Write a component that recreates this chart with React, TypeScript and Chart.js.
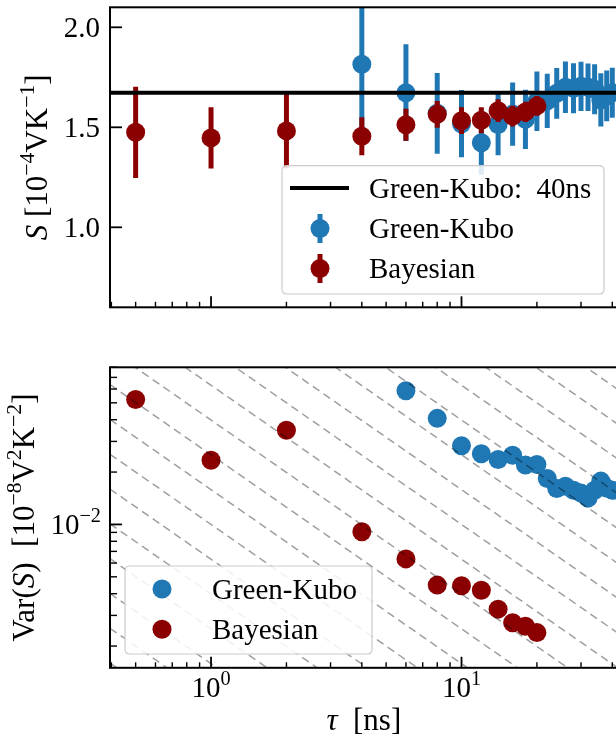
import React, { useEffect, useRef } from "react";
import { Chart, registerables } from "chart.js";

Chart.register(...registerables);

// ---------------- data ----------------
const TAU_BAYES = [0.5, 1, 2, 4, 6, 8, 10, 12, 14, 16, 18, 20];
const S_BAYES = [1.475, 1.447, 1.482, 1.455, 1.513, 1.565, 1.533, 1.535, 1.583, 1.556, 1.577, 1.607];
const S_ERR_BAYES = [0.228, 0.153, 0.187, 0.095, 0.08, 0.067, 0.067, 0.065, 0.057, 0.052, 0.051, 0.049];
const VAR_BAYES = [0.0522, 0.0234, 0.0348, 0.00907, 0.00634, 0.00448, 0.00444, 0.00419, 0.00326, 0.00272, 0.0026, 0.00239];

const TAU_GK = [4, 6, 8, 10, 12, 14, 16, 18, 20, 22, 24, 26, 28, 30, 32, 34, 36, 38, 40];
const S_GK = [1.815, 1.673, 1.57, 1.518, 1.423, 1.514, 1.566, 1.54, 1.63, 1.632, 1.67, 1.7, 1.695, 1.705, 1.7, 1.69, 1.637, 1.657, 1.673];
const S_ERR_GK = [0.37, 0.242, 0.202, 0.168, 0.16, 0.154, 0.158, 0.148, 0.149, 0.136, 0.127, 0.129, 0.125, 0.123, 0.119, 0.125, 0.133, 0.127, 0.125];
const VAR_GK = [0.137, 0.0587, 0.0407, 0.0283, 0.0255, 0.02364, 0.025, 0.02193, 0.0221, 0.01838, 0.0161, 0.0166, 0.01574, 0.01514, 0.01416, 0.01574, 0.01774, 0.01617, 0.0157];

const S_GK_40NS = 1.673;

const X_MIN = 0.395;
const X_MAX = 42;
const S_MIN = 0.6;
const S_MAX = 2.1;
const VAR_MIN = 0.0015;
const VAR_MAX = 0.08;

const S_TICKS = [1.0, 1.5, 2.0];
const S_TICK_LABELS = ["1.0", "1.5", "2.0"];
const X_MAJOR = [1, 10];
const X_MAJOR_EXP = ["0", "1"];
const X_MINOR = [0.4, 0.5, 0.6, 0.7, 0.8, 0.9, 2, 3, 4, 5, 6, 7, 8, 9, 20, 30, 40];
const VAR_MAJOR = [0.01];
const VAR_MAJOR_EXP = ["\u22122"];
const VAR_MINOR = [0.002, 0.003, 0.004, 0.005, 0.006, 0.007, 0.008, 0.009, 0.02, 0.03, 0.04, 0.05, 0.06, 0.07, 0.08];
// reference lines Var = c / tau, log10(c)
const GUIDE_LOG_C = [-3.2, -3.0, -2.8, -2.6, -2.4, -2.2, -2.0, -1.8, -1.6, -1.4, -1.2, -1.0, -0.8, -0.6, -0.4, -0.2, 0.0, 0.2, 0.4, 0.6];

// ---------------- style ----------------
const BLUE = "#1f77b4";
const RED = "#8b0000";
const FONT = '"Liberation Serif", "Times New Roman", serif';
const TICK_SIZE = 29;
const LABEL_SIZE = 31;
const LEGEND_SIZE = 29;

type Part = { t: string; sup?: boolean; it?: boolean };

function setFont(ctx: CanvasRenderingContext2D, size: number, it?: boolean) {
  ctx.font = `${it ? "italic " : ""}${size}px ${FONT}`;
}
function richWidth(ctx: CanvasRenderingContext2D, parts: Part[], size: number) {
  let w = 0;
  for (const p of parts) {
    setFont(ctx, p.sup ? size * 0.7 : size, p.it);
    w += ctx.measureText(p.t).width;
  }
  return w;
}
function drawRich(ctx: CanvasRenderingContext2D, parts: Part[], x: number, y: number, size: number, align: "left" | "center" | "right") {
  const w = richWidth(ctx, parts, size);
  let cx = align === "center" ? x - w / 2 : align === "right" ? x - w : x;
  ctx.textAlign = "left";
  ctx.textBaseline = "alphabetic";
  ctx.fillStyle = "#000";
  for (const p of parts) {
    const s = p.sup ? size * 0.7 : size;
    setFont(ctx, s, p.it);
    ctx.fillText(p.t, cx, p.sup ? y - size * 0.42 : y);
    cx += ctx.measureText(p.t).width;
  }
}

function roundRect(ctx: CanvasRenderingContext2D, x: number, y: number, w: number, h: number, r: number) {
  ctx.beginPath();
  ctx.moveTo(x + r, y);
  ctx.lineTo(x + w - r, y);
  ctx.quadraticCurveTo(x + w, y, x + w, y + r);
  ctx.lineTo(x + w, y + h - r);
  ctx.quadraticCurveTo(x + w, y + h, x + w - r, y + h);
  ctx.lineTo(x + r, y + h);
  ctx.quadraticCurveTo(x, y + h, x, y + h - r);
  ctx.lineTo(x, y + r);
  ctx.quadraticCurveTo(x, y, x + r, y);
  ctx.closePath();
}

function drawLegendBox(ctx: CanvasRenderingContext2D, x: number, y: number, w: number, h: number) {
  roundRect(ctx, x, y, w, h, 5);
  ctx.fillStyle = "rgba(255,255,255,0.85)";
  ctx.fill();
  ctx.strokeStyle = "#cccccc";
  ctx.lineWidth = 1.2;
  ctx.stroke();
}

function dot(ctx: CanvasRenderingContext2D, x: number, y: number, r: number, color: string) {
  ctx.beginPath();
  ctx.arc(x, y, r, 0, Math.PI * 2);
  ctx.fillStyle = color;
  ctx.fill();
}

function drawFrameAndXTicks(chart: any) {
  const ctx: CanvasRenderingContext2D = chart.ctx;
  const a = chart.chartArea;
  const xs = chart.scales.x;
  ctx.save();
  ctx.strokeStyle = "#000";
  ctx.lineWidth = 2;
  ctx.strokeRect(a.left, a.top, a.right - a.left, a.bottom - a.top);
  for (const v of X_MAJOR) {
    const px = xs.getPixelForValue(v);
    ctx.lineWidth = 1.8;
    ctx.beginPath();
    ctx.moveTo(px, a.bottom);
    ctx.lineTo(px, a.bottom - 11);
    ctx.stroke();
  }
  for (const v of X_MINOR) {
    const px = xs.getPixelForValue(v);
    ctx.lineWidth = 1.4;
    ctx.beginPath();
    ctx.moveTo(px, a.bottom);
    ctx.lineTo(px, a.bottom - 5.5);
    ctx.stroke();
  }
  ctx.restore();
}

const errorBarPlugin = {
  id: "errbars",
  beforeDatasetDraw(chart: any, args: any) {
    const ds = chart.data.datasets[args.index];
    if (!ds.errors) return;
    const ctx: CanvasRenderingContext2D = chart.ctx;
    const a = chart.chartArea;
    const xs = chart.scales.x;
    const ys = chart.scales.y;
    ctx.save();
    ctx.beginPath();
    ctx.rect(a.left, a.top, a.right - a.left, a.bottom - a.top);
    ctx.clip();
    ctx.strokeStyle = ds.backgroundColor;
    ctx.lineWidth = 5;
    ctx.lineCap = "butt";
    ds.data.forEach((p: any, i: number) => {
      const e = ds.errors[i];
      const px = xs.getPixelForValue(p.x);
      ctx.beginPath();
      ctx.moveTo(px, ys.getPixelForValue(p.y - e));
      ctx.lineTo(px, ys.getPixelForValue(p.y + e));
      ctx.stroke();
    });
    ctx.restore();
  },
};

const topDecor = {
  id: "topDecor",
  afterDraw(chart: any) {
    const ctx: CanvasRenderingContext2D = chart.ctx;
    const a = chart.chartArea;
    const ys = chart.scales.y;
    drawFrameAndXTicks(chart);
    ctx.save();
    ctx.strokeStyle = "#000";
    S_TICKS.forEach((v, i) => {
      const py = ys.getPixelForValue(v);
      ctx.lineWidth = 1.8;
      ctx.beginPath();
      ctx.moveTo(a.left, py);
      ctx.lineTo(a.left + 12, py);
      ctx.stroke();
      drawRich(ctx, [{ t: S_TICK_LABELS[i] }], a.left - 10, py + TICK_SIZE * 0.34, TICK_SIZE, "right");
    });
    // y title
    ctx.save();
    ctx.translate(47, (a.top + a.bottom) / 2);
    ctx.rotate(-Math.PI / 2);
    drawRich(
      ctx,
      [{ t: "S", it: true }, { t: " [10" }, { t: "\u22124", sup: true }, { t: "VK" }, { t: "\u22121", sup: true }, { t: "]" }],
      0,
      0,
      LABEL_SIZE,
      "center"
    );
    ctx.restore();
    // legend
    drawLegendBox(ctx, 282, 165.7, 322, 128.3);
    ctx.strokeStyle = "#000";
    ctx.lineWidth = 4;
    ctx.beginPath();
    ctx.moveTo(290, 188);
    ctx.lineTo(349, 188);
    ctx.stroke();
    drawRich(ctx, [{ t: "Green-Kubo:  40ns" }], 369, 188 + LEGEND_SIZE * 0.33, LEGEND_SIZE, "left");
    const rows: [number, string, string][] = [
      [228.5, BLUE, "Green-Kubo"],
      [268.5, RED, "Bayesian"],
    ];
    for (const [y, c, t] of rows) {
      ctx.strokeStyle = c;
      ctx.lineWidth = 5;
      ctx.beginPath();
      ctx.moveTo(320, y - 14.5);
      ctx.lineTo(320, y + 14.5);
      ctx.stroke();
      dot(ctx, 320, y, 9.5, c);
      drawRich(ctx, [{ t }], 369, y + LEGEND_SIZE * 0.33, LEGEND_SIZE, "left");
    }
    ctx.restore();
  },
};

const bottomDecor = {
  id: "bottomDecor",
  afterDraw(chart: any) {
    const ctx: CanvasRenderingContext2D = chart.ctx;
    const a = chart.chartArea;
    const xs = chart.scales.x;
    const ys = chart.scales.y;
    drawFrameAndXTicks(chart);
    ctx.save();
    ctx.strokeStyle = "#000";
    VAR_MAJOR.forEach((v, i) => {
      const py = ys.getPixelForValue(v);
      ctx.lineWidth = 1.8;
      ctx.beginPath();
      ctx.moveTo(a.left, py);
      ctx.lineTo(a.left + 12, py);
      ctx.stroke();
      drawRich(ctx, [{ t: "10" }, { t: VAR_MAJOR_EXP[i], sup: true }], a.left - 9, py + TICK_SIZE * 0.34, TICK_SIZE, "right");
    });
    for (const v of VAR_MINOR) {
      const py = ys.getPixelForValue(v);
      ctx.lineWidth = 1.4;
      ctx.beginPath();
      ctx.moveTo(a.left, py);
      ctx.lineTo(a.left + 7, py);
      ctx.stroke();
    }
    X_MAJOR.forEach((v, i) => {
      const px = xs.getPixelForValue(v);
      drawRich(ctx, [{ t: "10" }, { t: X_MAJOR_EXP[i], sup: true }], px, a.bottom + 29, TICK_SIZE, "center");
    });
    // x title
    drawRich(ctx, [{ t: "\u03c4", it: true }, { t: "  [ns]" }], (a.left + a.right) / 2, 400, LABEL_SIZE, "center");
    // y title
    ctx.save();
    ctx.translate(34, (a.top + a.bottom) / 2);
    ctx.rotate(-Math.PI / 2);
    drawRich(
      ctx,
      [
        { t: "Var(" },
        { t: "S", it: true },
        { t: ")  [10" },
        { t: "\u22128", sup: true },
        { t: "V" },
        { t: "2", sup: true },
        { t: "K" },
        { t: "\u22122", sup: true },
        { t: "]" },
      ],
      0,
      0,
      LABEL_SIZE,
      "center"
    );
    ctx.restore();
    // legend
    drawLegendBox(ctx, 125, 236, 247, 88);
    const rows: [number, string, string][] = [
      [259, BLUE, "Green-Kubo"],
      [299.3, RED, "Bayesian"],
    ];
    for (const [y, c, t] of rows) {
      dot(ctx, 162, y, 9.5, c);
      drawRich(ctx, [{ t }], 212, y + LEGEND_SIZE * 0.33, LEGEND_SIZE, "left");
    }
    ctx.restore();
  },
};

function pts(xs: number[], ys: number[]) {
  return xs.map((x, i) => ({ x, y: ys[i] }));
}

export default function App() {
  const topRef = useRef<HTMLCanvasElement>(null);
  const botRef = useRef<HTMLCanvasElement>(null);

  useEffect(() => {
    const top = new Chart(topRef.current as HTMLCanvasElement, {
      type: "scatter",
      data: {
        datasets: [
          {
            type: "line",
            label: "Green-Kubo: 40ns",
            data: [
              { x: X_MIN, y: S_GK_40NS },
              { x: X_MAX, y: S_GK_40NS },
            ],
            borderColor: "#000",
            borderWidth: 4,
            pointRadius: 0,
            order: 0,
          },
          {
            label: "Bayesian",
            data: pts(TAU_BAYES, S_BAYES),
            backgroundColor: RED,
            borderWidth: 0,
            pointRadius: 9.5,
            order: 1,
            errors: S_ERR_BAYES,
          } as any,
          {
            label: "Green-Kubo",
            data: pts(TAU_GK, S_GK),
            backgroundColor: BLUE,
            borderWidth: 0,
            pointRadius: 9.5,
            order: 2,
            errors: S_ERR_GK,
          } as any,
        ],
      },
      options: {
        responsive: false,
        animation: false,
        devicePixelRatio: 1,
        layout: { autoPadding: false, padding: { left: 110, top: 7.3, right: 2.4, bottom: 22.7 } },
        scales: {
          x: { type: "logarithmic", min: X_MIN, max: X_MAX, display: false },
          y: { type: "linear", min: S_MIN, max: S_MAX, display: false },
        },
        plugins: { legend: { display: false }, tooltip: { enabled: false } },
      },
      plugins: [errorBarPlugin, topDecor],
    });

    const guides = GUIDE_LOG_C.map((lc) => {
      const c = Math.pow(10, lc);
      return {
        type: "line",
        data: [
          { x: X_MIN, y: c / X_MIN },
          { x: X_MAX, y: c / X_MAX },
        ],
        borderColor: "rgba(0,0,0,0.38)",
        borderWidth: 1.5,
        borderDash: [8, 5],
        pointRadius: 0,
        order: 0,
      } as any;
    });

    const bot = new Chart(botRef.current as HTMLCanvasElement, {
      type: "scatter",
      data: {
        datasets: [
          {
            label: "Green-Kubo",
            data: pts(TAU_GK, VAR_GK),
            backgroundColor: BLUE,
            borderWidth: 0,
            pointRadius: 9.5,
            order: 2,
          },
          {
            label: "Bayesian",
            data: pts(TAU_BAYES, VAR_BAYES),
            backgroundColor: RED,
            borderWidth: 0,
            pointRadius: 9.5,
            order: 1,
          },
          ...guides,
        ],
      },
      options: {
        responsive: false,
        animation: false,
        devicePixelRatio: 1,
        layout: { autoPadding: false, padding: { left: 110, top: 37.3, right: 2.4, bottom: 67.2 } },
        scales: {
          x: { type: "logarithmic", min: X_MIN, max: X_MAX, display: false },
          y: { type: "logarithmic", min: VAR_MIN, max: VAR_MAX, display: false },
        },
        plugins: { legend: { display: false }, tooltip: { enabled: false } },
      },
      plugins: [bottomDecor],
    });

    return () => {
      top.destroy();
      bot.destroy();
    };
  }, []);

  return (
    <div style={{ position: "fixed", left: 0, top: 0, width: 616, height: 735, overflow: "hidden", background: "#fff" }}>
      <canvas ref={topRef} width={620} height={330} style={{ position: "absolute", left: 0, top: 0, width: 620, height: 330 }} />
      <canvas ref={botRef} width={620} height={405} style={{ position: "absolute", left: 0, top: 330, width: 620, height: 405 }} />
    </div>
  );
}
